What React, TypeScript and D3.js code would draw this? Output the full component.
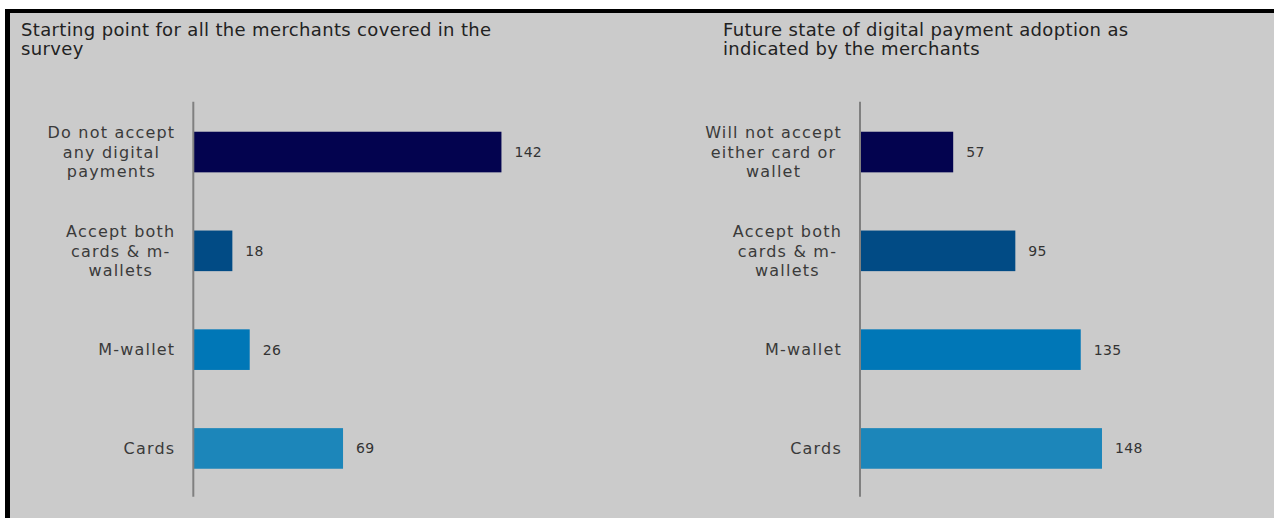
import React from "react";
import * as d3 from "d3";

const W = 1274;
const H = 518;

const leftTitle = ["Starting point for all the merchants covered in the", "survey"];
const rightTitle = ["Future state of digital payment adoption as", "indicated by the merchants"];

const leftCategories = [
  "Do not accept\nany digital\npayments",
  "Accept both\ncards & m-\nwallets",
  "M-wallet",
  "Cards",
];
const leftValues = [142, 18, 26, 69];

const rightCategories = [
  "Will not accept\neither card or\nwallet",
  "Accept both\ncards & m-\nwallets",
  "M-wallet",
  "Cards",
];
const rightValues = [57, 95, 135, 148];

const barColors = ["#03034f", "#014b85", "#0077b7", "#1c86ba"];

const FONT = "'DejaVu Sans', Verdana, sans-serif";
const CAT_SIZE = 16;
const CAT_LS = 1.2;

let ctx: CanvasRenderingContext2D | null = null;
function measure(text: string, size: number, ls: number) {
  if (!ctx) {
    const c = document.createElement("canvas");
    ctx = c.getContext("2d");
  }
  if (!ctx) return text.length * size * 0.6;
  ctx.font = `${size}px 'DejaVu Sans'`;
  return ctx.measureText(text).width + ls * text.length;
}

type PanelProps = {
  title: string[];
  categories: string[];
  values: number[];
  titleX: number;
  axisX: number;
  pxPerUnit: number;
};

function Panel({ title, categories, values, titleX, axisX, pxPerUnit }: PanelProps) {
  const axisTop = 101.7;
  const axisBottom = 496.7;
  const step = 98.8;
  const pIn = 0.589;
  const pOut = 0.304;
  const y = d3
    .scaleBand<string>()
    .domain(categories)
    .range([axisTop, axisTop + step * (categories.length - pIn + 2 * pOut)])
    .paddingInner(pIn)
    .paddingOuter(pOut);
  const maxV = 150;
  const x = d3.scaleLinear().domain([0, maxV]).range([axisX, axisX + maxV * pxPerUnit]);
  const labelRight = axisX - 18;
  const lineH = 19.5;

  return (
    <g>
      {title.map((t, i) => (
        <text
          key={i}
          x={titleX}
          y={36 + i * 19}
          fontFamily={FONT}
          fontSize={18}
          letterSpacing={0.35}
          fill="#222222"
        >
          {t}
        </text>
      ))}
      {categories.map((c, i) => {
        const yy = (y(c) as number) + y.bandwidth() / 2;
        const lines = c.split("\n");
        const bw = Math.max(...lines.map((l) => measure(l, CAT_SIZE, CAT_LS)));
        const cx = labelRight - bw / 2;
        const first = yy - ((lines.length - 1) * lineH) / 2;
        return (
          <g key={c}>
            <rect
              x={x(0)}
              y={y(c)}
              width={x(values[i]) - x(0)}
              height={y.bandwidth()}
              fill={barColors[i]}
            />
            {lines.map((l, j) => (
              <text
                key={j}
                x={cx}
                y={first + j * lineH}
                dy="0.36em"
                textAnchor="middle"
                fontFamily={FONT}
                fontSize={CAT_SIZE}
                letterSpacing={CAT_LS}
                fill="#3a3a3a"
              >
                {l}
              </text>
            ))}
            <text
              x={x(values[i]) + 13}
              y={yy}
              dy="0.36em"
              fontFamily={FONT}
              fontSize={14}
              letterSpacing={0.3}
              fill="#333333"
            >
              {values[i]}
            </text>
          </g>
        );
      })}
      <line x1={axisX} x2={axisX} y1={axisTop} y2={axisBottom} stroke="#808080" strokeWidth={2} />
    </g>
  );
}

export default function App() {
  return (
    <svg
      width={W}
      height={H}
      style={{ position: "fixed", left: 0, top: 0, display: "block" }}
    >
      <rect x={0} y={0} width={W} height={H} fill="#ffffff" />
      <rect x={10} y={13} width={W - 10} height={H - 13 + 4} fill="#cbcbcb" />
      <rect x={5} y={9} width={W - 5} height={4} fill="#000000" />
      <rect x={5} y={9} width={5} height={H - 9 + 4} fill="#000000" />
      <Panel
        title={leftTitle}
        categories={leftCategories}
        values={leftValues}
        titleX={21}
        axisX={193.3}
        pxPerUnit={2.17}
      />
      <Panel
        title={rightTitle}
        categories={rightCategories}
        values={rightValues}
        titleX={723}
        axisX={860}
        pxPerUnit={1.635}
      />
    </svg>
  );
}
